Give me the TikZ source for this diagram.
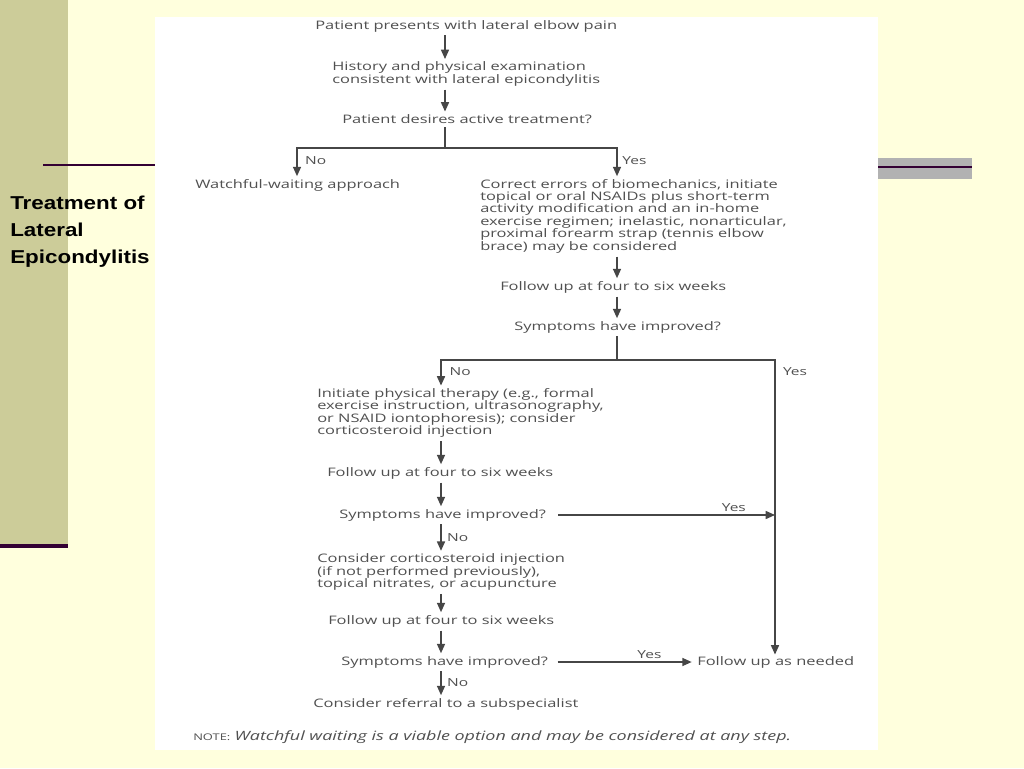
\documentclass[tikz,border=0pt]{standalone}
\usepackage{fontspec}
\setmainfont{Open Sans}
\newfontfamily\flowfont[FakeStretch=1.4]{Open Sans}
\newfontfamily\titlefont[FakeStretch=1.2]{Liberation Sans}
\usetikzlibrary{arrows.meta,positioning,calc}
\newcommand{\flowsize}{\fontsize{8.8}{9.3}\selectfont\lineskiplimit=-10pt\relax}
\tikzset{txt/.style={anchor=west, inner sep=0pt, align=left, font=\flowfont\flowsize, text=cink}}
\tikzset{lbl/.style={inner sep=0pt, font=\flowfont\fontsize{8.3}{9}\selectfont, text=cink}}
\tikzset{arr/.style={-{Triangle[length=7pt,width=6pt]}, line width=1.1pt, draw=cline, shorten <=2.5pt, shorten >=2pt}}
\tikzset{ln/.style={line width=1.1pt, draw=cline}}
\definecolor{cbg}{RGB}{255,255,221}
\definecolor{colive}{RGB}{204,204,153}
\definecolor{cplum}{RGB}{51,0,51}
\definecolor{cbar}{RGB}{178,178,178}
\definecolor{cink}{RGB}{80,80,80}
\definecolor{cline}{RGB}{70,70,70}
\begin{document}
\begin{tikzpicture}[x=0.75pt, y=-0.75pt]
        \useasboundingbox (0,0) rectangle (1024,768);
        
        %%% SLIDE BACKGROUND %%%
        \fill[cbg] (0,0) rectangle (1024,768);
        \fill[colive] (0,0) rectangle (68,545);
        \draw[cplum, line width=3pt] (0,546) -- (68,546);
        \draw[cplum, line width=1.5pt] (43,165) -- (155,165);
        \fill[cbar] (878,158) rectangle (972,179);
        \draw[cplum, line width=1.5pt] (878,167) -- (972,167);
        \fill[white] (155,17) rectangle (878,750);
        \node[anchor=north west, align=left, inner sep=0pt, font=\titlefont\bfseries\fontsize{14}{20.2}\selectfont] (title) at (10,196)
            {Treatment of\\Lateral\\Epicondylitis};
        
        %%% COLUMNS %%%
        \coordinate (ctop) at (445,0);
        \coordinate (clow) at (441,0);
        \coordinate (cno) at (297,0);
        \coordinate (cmid) at (617,0);
        \coordinate (cright) at (775,0);
        \coordinate (fork1) at (445,148);
        \coordinate (fork2) at (617,360);
        
        %%% TOP %%%
        \node[txt] (start) at (315,26) {Patient presents with lateral elbow pain};
        \node[txt] (hist) at (332,74) {History and physical examination\\consistent with lateral epicondylitis};
        \node[txt] (desire) at (342,119) {Patient desires active treatment?};
        \node[txt] (wait) at (195,185) {Watchful-waiting approach};
        \node[txt] (correct) at (480,216)
            {Correct errors of biomechanics, initiate\\topical or oral NSAIDs plus short-term\\activity modification and an in-home\\exercise regimen; inelastic, nonarticular,\\proximal forearm strap (tennis elbow\\brace) may be considered};
        \node[txt] (fu1) at (500,287) {Follow up at four to six weeks};
        \node[txt] (imp1) at (514,327) {Symptoms have improved?};
        
        %%% LOWER %%%
        \node[txt] (pt) at (317,413)
            {Initiate physical therapy (e.g., formal\\exercise instruction, ultrasonography,\\or NSAID iontophoresis); consider\\corticosteroid injection};
        \node[txt] (fu2) at (327,473) {Follow up at four to six weeks};
        \node[txt] (imp2) at (339,515) {Symptoms have improved?};
        \node[txt] (cort) at (317,572)
            {Consider corticosteroid injection\\(if not performed previously),\\topical nitrates, or acupuncture};
        \node[txt] (fu3) at (328,621) {Follow up at four to six weeks};
        \node[txt] (imp3) at (341,662) {Symptoms have improved?};
        \node[txt] (asneed) at (697,662) {Follow up as needed};
        \node[txt] (refer) at (313,704) {Consider referral to a subspecialist};
        \node[txt] (note) at (193,737) {{\fontsize{6.9}{8}\selectfont NOTE:} {\itshape\fontsize{9.6}{10}\selectfont Watchful waiting is a viable option and may be considered at any step.}};
        
        %%% ARROWS %%%
        \draw[arr] (start.south -| ctop) -- (hist.north -| ctop);
        \draw[arr] (hist.south -| ctop) -- (desire.north -| ctop);
        \draw[ln, shorten <=2.5pt] (desire.south -| ctop) -- (fork1);
        \draw[arr, shorten <=0pt] (fork1) -| (wait.north -| cno) node[lbl, pos=0.7, right=5.5pt] {No};
        \draw[arr, shorten <=0pt] (fork1) -| (correct.north -| cmid) node[lbl, pos=0.7, right=3.5pt] {Yes};
        \draw[arr] (correct.south -| cmid) -- (fu1.north -| cmid);
        \draw[arr] (fu1.south -| cmid) -- (imp1.north -| cmid);
        \draw[ln, shorten <=2.5pt] (imp1.south -| cmid) -- (fork2);
        \draw[arr, shorten <=0pt] (fork2) -| (pt.north -| clow) node[lbl, pos=0.7, right=6pt] {No};
        \draw[arr, shorten <=0pt, shorten >=1pt] (fork2) -| (asneed.north -| cright) node[lbl, pos=0.52, right=5.5pt] {Yes};
        \draw[arr] (pt.south -| clow) -- (fu2.north -| clow);
        \draw[arr] (fu2.south -| clow) -- (imp2.north -| clow);
        \draw[arr, shorten <=9pt, shorten >=0pt] (imp2.east) -- (imp2.east -| cright) node[lbl, pos=0.82, above=2pt] {Yes};
        \draw[arr] (imp2.south -| clow) -- (cort.north -| clow) node[lbl, midway, right=4pt] {No};
        \draw[arr] (cort.south -| clow) -- (fu3.north -| clow);
        \draw[arr] (fu3.south -| clow) -- (imp3.north -| clow);
        \draw[arr, shorten <=7pt, shorten >=4pt] (imp3.east) -- (asneed.west) node[lbl, pos=0.68, above=2pt] {Yes};
        \draw[arr] (imp3.south -| clow) -- (refer.north -| clow) node[lbl, midway, right=4pt] {No};
    \end{tikzpicture}
\end{document}
